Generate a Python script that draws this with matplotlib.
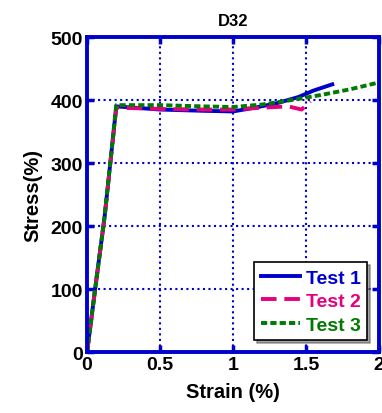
import matplotlib
matplotlib.use("Agg")
import matplotlib.pyplot as plt

plt.rcParams['font.family'] = ['Liberation Sans', 'DejaVu Sans']
plt.rcParams['font.weight'] = 'bold'

# datos
strain_1 = [0.0, 0.055, 0.12, 0.2, 0.5, 0.8, 1.0, 1.15, 1.3, 1.45, 1.55, 1.68]
stress_1 = [0, 100, 215, 390, 385, 383, 382, 388, 395, 405, 415, 425]

strain_2 = [0.0, 0.055, 0.12, 0.2, 0.5, 0.8, 1.0, 1.2, 1.38, 1.47, 1.53]
stress_2 = [0, 100, 215, 388, 386, 385, 385, 388, 390, 385, 398]

strain_3 = [0.0, 0.055, 0.12, 0.2, 0.5, 0.8, 1.0, 1.2, 1.4, 1.6, 1.8, 2.0]
stress_3 = [0, 100, 215, 392, 392, 390, 389, 393, 400, 408, 417, 428]

labels = ['Test 1', 'Test 2', 'Test 3']
colors = ['#0000CC', '#E6007E', '#007A00']
blue = '#0000CC'

fig = plt.figure(figsize=(3.82, 4.14), dpi=100)
ax = fig.add_axes([0.228, 0.147, 0.764, 0.761])

ax.plot(strain_1, stress_1, color=colors[0], lw=2.8, ls='-', label=labels[0])
ax.plot(strain_2, stress_2, color=colors[1], lw=2.8, ls=(0, (4, 2)), label=labels[1])
ax.plot(strain_3, stress_3, color=colors[2], lw=2.8, ls=(0, (1.6, 0.8)), label=labels[2])

ax.set_xlim(0, 2)
ax.set_ylim(0, 500)
ax.set_xticks([0, 0.5, 1, 1.5, 2])
ax.set_xticklabels(['0', '0.5', '1', '1.5', '2'])
ax.set_yticks([0, 100, 200, 300, 400, 500])

ax.grid(True, color=blue, ls=':', lw=1.5)
for s in ax.spines.values():
    s.set_color(blue)
    s.set_linewidth(2.8)
ax.tick_params(direction='in', color=blue, width=2.5, length=5,
               top=True, right=True, labelsize=14, pad=3)
for t in ax.get_xticklabels() + ax.get_yticklabels():
    t.set_fontweight('bold')

ax.set_xlabel('Strain (%)', fontsize=14.5, fontweight='bold', labelpad=6)
ax.set_ylabel('Stress(%)', fontsize=14.5, fontweight='bold', labelpad=6)
ax.set_title('D32', fontsize=12, fontweight='bold', pad=9)

leg = ax.legend(loc='lower right', fontsize=14, frameon=True, fancybox=False,
                shadow=True, handlelength=2.0, borderpad=0.35, labelspacing=0.3,
                handletextpad=0.3, borderaxespad=0.6)
leg.get_frame().set_edgecolor('black')
leg.get_frame().set_linewidth(1.2)
for txt, c in zip(leg.get_texts(), colors):
    txt.set_color(c)
    txt.set_fontweight('bold')

fig.savefig('out.png', dpi=100)
